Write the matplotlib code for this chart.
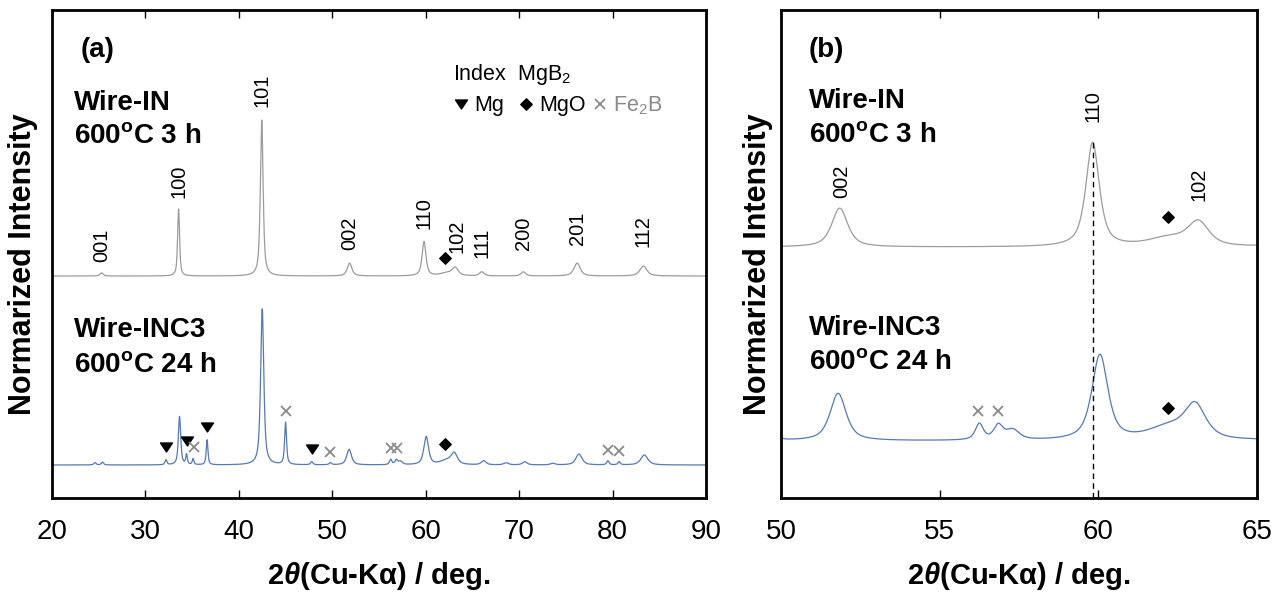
import numpy as np
import matplotlib
matplotlib.use("Agg")
import matplotlib.pyplot as plt
from matplotlib.path import Path
from matplotlib.transforms import offset_copy

plt.rcParams['font.family'] = ['Liberation Sans', 'DejaVu Sans']
plt.rcParams['mathtext.fontset'] = 'custom'
plt.rcParams['mathtext.rm'] = 'Liberation Sans'
plt.rcParams['mathtext.it'] = 'Liberation Sans:italic'
plt.rcParams['mathtext.bf'] = 'Liberation Sans:bold'
plt.rcParams['mathtext.bfit'] = 'Liberation Sans:italic:bold'

# ---- peak tables (2theta / deg, height normalised to MgB2 101, FWHM / deg) ----
# Wire-IN, 600 C 3 h
in_pos = [25.3, 33.55, 42.45, 51.85, 59.82, 62.2, 63.15, 66.0, 70.45, 76.2, 83.3]
in_height = [0.02, 0.43, 1.00, 0.082, 0.22, 0.018, 0.05, 0.026, 0.026, 0.083, 0.064]
in_fwhm = [0.4, 0.25, 0.35, 0.6, 0.5, 1.5, 0.8, 0.6, 0.6, 0.8, 0.9]

# Wire-INC3, 600 C 24 h
inc3_pos = [24.6, 25.4, 32.2, 33.65, 34.4, 35.1, 36.6, 42.5, 45.0, 47.8, 49.8,
            51.8, 56.25, 56.85, 57.3, 60.05, 62.2, 63.05, 66.2, 68.6, 70.6,
            73.6, 76.4, 79.5, 80.7, 83.4]
inc3_height = [0.015, 0.018, 0.032, 0.31, 0.064, 0.038, 0.16, 1.00, 0.27, 0.02,
               0.013, 0.10, 0.034, 0.03, 0.021, 0.18, 0.027, 0.07, 0.026, 0.013,
               0.02, 0.01, 0.07, 0.026, 0.02, 0.064]
inc3_fwhm = [0.3, 0.3, 0.25, 0.3, 0.2, 0.2, 0.22, 0.4, 0.25, 0.3, 0.3, 0.6, 0.3,
             0.35, 0.5, 0.6, 1.5, 0.8, 0.6, 0.6, 0.6, 0.6, 0.8, 0.3, 0.3, 0.9]

# MgB2 indices
hkl_labels = ['001', '100', '101', '002', '110', '102', '111', '200', '201', '112']
hkl_pos = [25.3, 33.55, 42.45, 51.85, 59.85, 63.3, 66.0, 70.45, 76.2, 83.3]
hkl_b_labels = ['002', '110', '102']
hkl_b_pos = [51.9, 59.83, 63.17]

# impurity phase reflections
mg_pos = [32.2, 34.4, 36.6, 47.8]
mgo_pos = [62.2]
fe2b_pos = [35.2, 45.0, 49.8, 56.25, 56.9, 79.5, 80.7]

x_ticks_a = [20, 30, 40, 50, 60, 70, 80, 90]
x_ticks_b = [50, 55, 60, 65]

GRAY = '#9c9c9c'
BLUE = '#5679b4'
XGRAY = '#8a8a8a'


def pattern(x, pos, height, fwhm, eta=0.7):
    y = np.zeros_like(x)
    for p, h, w in zip(pos, height, fwhm):
        hw = w / 2.0
        lor = 1.0 / (1.0 + ((x - p) / hw) ** 2)
        gau = np.exp(-np.log(2) * ((x - p) / hw) ** 2)
        y += h * (eta * lor + (1 - eta) * gau)
    return y


tth = np.arange(20.0, 90.0, 0.01)
y_in = pattern(tth, in_pos, in_height, in_fwhm)
y_inc3 = pattern(tth, inc3_pos, inc3_height, inc3_fwhm)


def local_max(x0, y, half=0.15):
    m = (tth >= x0 - half) & (tth <= x0 + half)
    return y[m].max()


tri_down = Path([(-1, 0.75), (1, 0.75), (0, -0.75), (-1, 0.75)],
                [Path.MOVETO, Path.LINETO, Path.LINETO, Path.CLOSEPOLY])
diamond = Path([(0, 1), (1, 0), (0, -1), (-1, 0), (0, 1)],
               [Path.MOVETO, Path.LINETO, Path.LINETO, Path.LINETO, Path.CLOSEPOLY])

fig = plt.figure(figsize=(12.87, 5.98), dpi=100)
ax_a = fig.add_axes([52 / 1287, 100 / 598, 654 / 1287, 488 / 598])
ax_b = fig.add_axes([781 / 1287, 100 / 598, 476 / 1287, 488 / 598])


def style(ax, xlim, ticks, ylim):
    ax.set_xlim(*xlim)
    ax.set_ylim(*ylim)
    ax.set_xticks(ticks)
    ax.set_yticks([])
    for s in ax.spines.values():
        s.set_linewidth(2.0)
    ax.tick_params(axis='x', direction='in', top=True, bottom=True, length=6,
                   width=1.0, labelsize=20, pad=15)
    ax.set_xlabel(r'2$\mathbfit{\theta}$(Cu-Kα) / deg.', fontsize=21,
                  fontweight='bold', labelpad=11)
    ax.set_ylabel('Normarized Intensity', fontsize=22, fontweight='bold')


def marker(ax, x, y, kind, dy):
    tr = offset_copy(ax.transData, fig=fig, x=0, y=dy, units='dots')
    if kind == 'mg':
        ax.plot(x, y, marker=tri_down, ms=8.6, color='black', ls='none',
                transform=tr, clip_on=False)
    elif kind == 'mgo':
        ax.plot(x, y, marker=diamond, ms=8.2, color='black', ls='none',
                transform=tr, clip_on=False)
    else:
        ax.plot(x, y, marker='x', ms=7, mew=1.3, color=XGRAY, ls='none',
                transform=tr, clip_on=False)


# ---------------- panel (a): full range ----------------
off_a = 1.2115
style(ax_a, (20, 90), x_ticks_a, (-0.2115, 2.917))
ax_a.plot(tth, y_in + off_a, color=GRAY, lw=0.9)
ax_a.plot(tth, y_inc3, color=BLUE, lw=0.9)

gaps_a = [11, 11, 13, 13, 12, 14, 14, 22, 18, 19]
for lab, p, g in zip(hkl_labels, hkl_pos, gaps_a):
    yv = local_max(p, y_in, 0.3) + off_a
    tr = offset_copy(ax_a.transData, fig=fig, x=0, y=g, units='dots')
    ax_a.text(p, yv, lab, rotation=90, ha='center', va='bottom', fontsize=14.5,
              transform=tr)

for p in mg_pos:
    marker(ax_a, p, local_max(p, y_inc3), 'mg', 13)
for p in fe2b_pos:
    marker(ax_a, p, local_max(p, y_inc3), 'fe2b', 11)
for p in mgo_pos:
    marker(ax_a, p - 0.1, local_max(p, y_inc3), 'mgo', 14)
    marker(ax_a, p - 0.1, local_max(p, y_in) + off_a, 'mgo', 14)

ax_a.text(0.044, 0.918, '(a)', transform=ax_a.transAxes, fontsize=20,
          fontweight='bold', va='center', ha='left')
ax_a.text(0.034, 0.795, 'Wire-IN', transform=ax_a.transAxes, fontsize=20,
          fontweight='bold', va='baseline')
ax_a.text(0.034, 0.727, '600$^{\\mathregular{o}}$C 3 h', transform=ax_a.transAxes,
          fontsize=20, fontweight='bold', va='baseline')
ax_a.text(0.034, 0.330, 'Wire-INC3', transform=ax_a.transAxes, fontsize=20,
          fontweight='bold', va='baseline')
ax_a.text(0.034, 0.258, '600$^{\\mathregular{o}}$C 24 h', transform=ax_a.transAxes,
          fontsize=20, fontweight='bold', va='baseline')

# phase key
ax_a.text(0.613, 0.857, 'Index  MgB$_\\mathregular{2}$', transform=ax_a.transAxes,
          fontsize=15.5, va='baseline')
ax_a.plot(0.625, 0.808, marker=tri_down, ms=8.6, color='black',
          transform=ax_a.transAxes, clip_on=False)
ax_a.text(0.645, 0.793, 'Mg', transform=ax_a.transAxes, fontsize=15.5, va='baseline')
ax_a.plot(0.725, 0.808, marker=diamond, ms=8.2, color='black',
          transform=ax_a.transAxes, clip_on=False)
ax_a.text(0.745, 0.793, 'MgO', transform=ax_a.transAxes, fontsize=15.5, va='baseline')
ax_a.plot(0.838, 0.808, marker='x', ms=7, mew=1.3, color=XGRAY,
          transform=ax_a.transAxes, clip_on=False)
ax_a.text(0.858, 0.793, 'Fe$_\\mathregular{2}$B', transform=ax_a.transAxes,
          fontsize=15.5, va='baseline', color=XGRAY)

ax_a.yaxis.set_label_coords(-0.022, 0.48)

# ---------------- panel (b): 50-65 deg ----------------
off_b = 0.409
style(ax_b, (50, 65), x_ticks_b, (-0.120, 0.9095))
ax_b.plot(tth, y_in + off_b, color=GRAY, lw=0.9)
ax_b.plot(tth, y_inc3, color=BLUE, lw=0.9)

peak110 = local_max(59.82, y_in) + off_b
ax_b.vlines(59.82, -0.120, peak110, colors='black', lw=1.0,
            linestyles=(0, (4, 3)))

gaps_b = [10, 20, 19]
for lab, p, g in zip(hkl_b_labels, hkl_b_pos, gaps_b):
    yv = local_max(p, y_in, 0.3) + off_b
    tr = offset_copy(ax_b.transData, fig=fig, x=0, y=g, units='dots')
    ax_b.text(p, yv, lab, rotation=90, ha='center', va='bottom', fontsize=14.5,
              transform=tr)

for p in fe2b_pos:
    if 50 < p < 65:
        marker(ax_b, p - 0.05, local_max(p, y_inc3), 'fe2b', 12)
for p in mgo_pos:
    marker(ax_b, p, local_max(p, y_inc3), 'mgo', 13)
    marker(ax_b, p, local_max(p, y_in) + off_b, 'mgo', 17)

ax_b.text(0.057, 0.918, '(b)', transform=ax_b.transAxes, fontsize=20,
          fontweight='bold', va='center', ha='left')
ax_b.text(0.059, 0.799, 'Wire-IN', transform=ax_b.transAxes, fontsize=20,
          fontweight='bold', va='baseline')
ax_b.text(0.059, 0.730, '600$^{\\mathregular{o}}$C 3 h', transform=ax_b.transAxes,
          fontsize=20, fontweight='bold', va='baseline')
ax_b.text(0.059, 0.334, 'Wire-INC3', transform=ax_b.transAxes, fontsize=20,
          fontweight='bold', va='baseline')
ax_b.text(0.059, 0.264, '600$^{\\mathregular{o}}$C 24 h', transform=ax_b.transAxes,
          fontsize=20, fontweight='bold', va='baseline')

ax_b.yaxis.set_label_coords(-0.0165, 0.48)

fig.savefig('out.png', dpi=100)
